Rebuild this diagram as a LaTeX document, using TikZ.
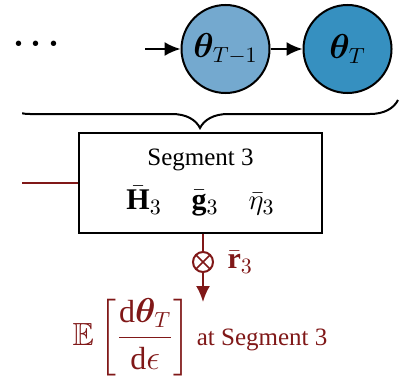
\documentclass[tikz,border=0pt]{standalone}
\usepackage{amsmath, amssymb, bm}
\usepackage{fontspec}
\setmainfont{Liberation Serif}
\usepackage{tikz}
\usetikzlibrary{arrows.meta, decorations.pathreplacing, positioning}

\definecolor{nodelight}{HTML}{74A9CF}
\definecolor{nodedark}{HTML}{3690C0}
\definecolor{gradred}{RGB}{128,24,24}

\begin{document}
\begin{tikzpicture}[x=0.5pt, y=-0.5pt, >={Latex[length=8pt, width=7pt]}, line width=1pt,
    state/.style={circle, draw, line width=1pt, fill=nodelight, minimum size=44pt, inner sep=0pt,
        font=\fontsize{16}{18}\selectfont},
    segbox/.style={draw, line width=1pt, minimum width=121.5pt, minimum height=50pt, align=center,
        font=\fontsize{12.5}{15}\selectfont},
    redtext/.style={text=gradred, font=\fontsize{12.5}{15}\selectfont}]
    \useasboundingbox (0,0) rectangle (399,379);
    % chain of states
    \node[font=\fontsize{18}{20}\selectfont] (dots) at (39.5,44) {$\bm{\cdots}$};
    \coordinate (inflow) at (145,49);
    \node[state] (thetaprev) at (225.5,49) {$\bm{\theta}_{T-1}$};
    \node[state, fill=nodedark] (thetaT) at (347.5,49) {$\bm{\theta}_{T}$};
    \draw[->] (inflow) -- (thetaprev);
    \draw[->] (thetaprev) -- (thetaT);
    % brace over the segment
    \coordinate (braceR) at (398,100);
    \coordinate (braceL) at (2,100);
    \begin{scope}
        \clip (22,0) rectangle (399,379);
        \draw[decorate, decoration={brace, amplitude=14pt}] (braceR) -- (braceL);
    \end{scope}
    % segment block
    \node[segbox] (seg) at (200.5,183) {Segment 3\\[7pt]
        {\fontsize{15}{16}\selectfont $\bar{\mathbf{H}}_3 \quad \bar{\mathbf{g}}_3 \quad \bar{\eta}_3$}};
    \coordinate (redin) at (22,183);
    \draw[gradred] (redin) -- (seg.west);
    % gradient output
    \node[circle, draw=gradred, line width=1pt, minimum size=10pt, inner sep=0pt,
        path picture={\draw[gradred, line width=0.8pt]
            (path picture bounding box.north east) -- (path picture bounding box.south west)
            (path picture bounding box.north west) -- (path picture bounding box.south east);}]
        (mult) at (203,262) {};
    \node[redtext, font=\fontsize{15}{17}\selectfont, right=3pt of mult] (rlabel) {$\bar{\mathbf{r}}_3$};
    \coordinate (outtip) at (203,302);
    \draw[gradred] (mult |- seg.south) -- (mult);
    \draw[gradred, ->] (mult) -- (outtip);
    \node[redtext] (expect) at (200,337)
        {{\fontsize{16}{18}\selectfont $\mathbb{E}\left[\dfrac{\mathrm{d}\bm{\theta}_T}{\mathrm{d}\epsilon}\right]$} at Segment 3};
\end{tikzpicture}
\end{document}
